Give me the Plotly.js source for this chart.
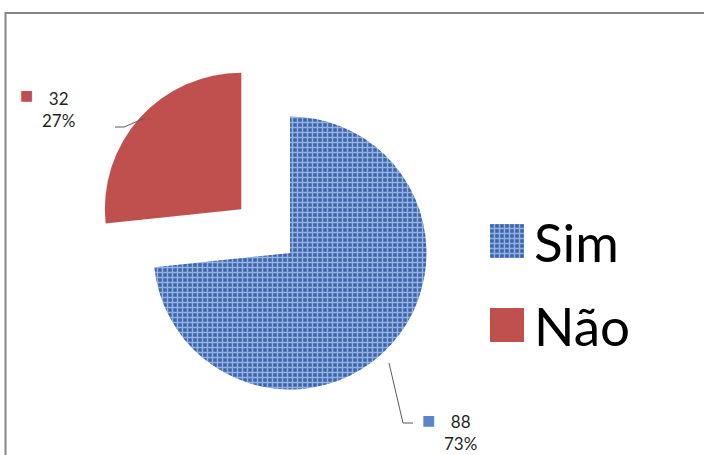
<!DOCTYPE html>
<html>
<head>
<meta charset="utf-8">
<script src="https://cdn.plot.ly/plotly-3.0.1.min.js"></script>
<style>html,body{margin:0;padding:0;background:#fff;}#chart{width:704px;height:455px;}</style>
</head>
<body>
<div id="chart"></div>
<script>
var categories = ['Sim', 'Não'];
var counts = [88, 32];
var sliceColors = ['#4d73b6', '#c0504d'];
var pullOut = [0, 0.48];

var W = 704, H = 455;
function px(x) { return x / W; }
function py(y) { return 1 - y / H; }

var total = counts.reduce(function (a, b) { return a + b; }, 0);
function pct(v) { return Math.round(v / total * 100) + '%'; }

var trace = {
  type: 'pie',
  labels: categories,
  values: counts,
  sort: false,
  direction: 'clockwise',
  rotation: 0,
  pull: pullOut,
  textinfo: 'none',
  hoverinfo: 'none',
  domain: { x: [px(88), px(492)], y: [0, py(51)] },
  marker: {
    colors: sliceColors,
    line: { width: 0 },
    pattern: {
      shape: ['+', ''],
      fgcolor: ['#93b2e4', '#c0504d'],
      bgcolor: ['#3f63a8', '#c0504d'],
      size: 5,
      solidity: 0.5
    }
  }
};

var labelFont = { family: 'Lato, Carlito, sans-serif', size: 17, color: '#1f1f1f' };
var keyFont = { family: 'DejaVu Sans', size: 14 };

var annotations = [
  { xref: 'paper', yref: 'paper', x: px(58.5), y: py(109), xanchor: 'center', yanchor: 'middle',
    text: counts[1] + '<br>' + pct(counts[1]), showarrow: false, font: labelFont, align: 'center' },
  { xref: 'paper', yref: 'paper', x: px(26), y: py(95), xanchor: 'center', yanchor: 'middle',
    text: '■', showarrow: false, font: { family: keyFont.family, size: keyFont.size, color: sliceColors[1] } },
  { xref: 'paper', yref: 'paper', x: px(460), y: py(432.5), xanchor: 'center', yanchor: 'middle',
    text: counts[0] + '<br>' + pct(counts[0]), showarrow: false, font: labelFont, align: 'center' },
  { xref: 'paper', yref: 'paper', x: px(428), y: py(420), xanchor: 'center', yanchor: 'middle',
    text: '■', showarrow: false, font: { family: keyFont.family, size: keyFont.size, color: '#5b84c9' } }
];

function path(pts) {
  return pts.map(function (p, i) { return (i ? 'L' : 'M') + px(p[0]) + ',' + py(p[1]); }).join(' ');
}

var shapes = [
  { type: 'rect', xref: 'paper', yref: 'paper', x0: px(5.5), y0: py(470), x1: px(720), y1: py(13),
    line: { color: '#858585', width: 2 }, fillcolor: 'rgba(0,0,0,0)' },
  { type: 'path', xref: 'paper', yref: 'paper', path: path([[115, 127], [124, 127], [145, 118]]),
    line: { color: '#595959', width: 1 } },
  { type: 'path', xref: 'paper', yref: 'paper', path: path([[389, 363], [403, 423], [413, 423]]),
    line: { color: '#595959', width: 1 } }
];

var layout = {
  width: W, height: H,
  margin: { l: 0, r: 0, t: 0, b: 0 },
  paper_bgcolor: '#ffffff',
  showlegend: true,
  legend: {
    x: px(480), xanchor: 'left', y: py(200), yanchor: 'top',
    font: { family: 'Lato, Carlito, sans-serif', size: 53, color: '#000000' },
    bgcolor: 'rgba(0,0,0,0)', itemwidth: 44
  },
  annotations: annotations,
  shapes: shapes
};

Plotly.newPlot('chart', [trace], layout, { displayModeBar: false, staticPlot: true }).then(function () {
  var items = document.querySelectorAll('.legend .traces');
  var rowGap = 84;
  var firstY = null;
  items.forEach(function (g, i) {
    var t = g.getAttribute('transform') || '';
    var m = /translate\(\s*([-\d.]+)[ ,]+([-\d.]+)\s*\)/.exec(t);
    var x = m ? parseFloat(m[1]) : 0;
    var y = m ? parseFloat(m[2]) : 0;
    if (firstY === null) firstY = y;
    g.setAttribute('transform', 'translate(' + x + ',' + (firstY + i * rowGap) + ')');
    var sym = g.querySelector('path.legendpie');
    if (sym) {
      sym.setAttribute('d', 'M17,17H-17V-17H17Z');
    }
  });
});
</script>
</body>
</html>
